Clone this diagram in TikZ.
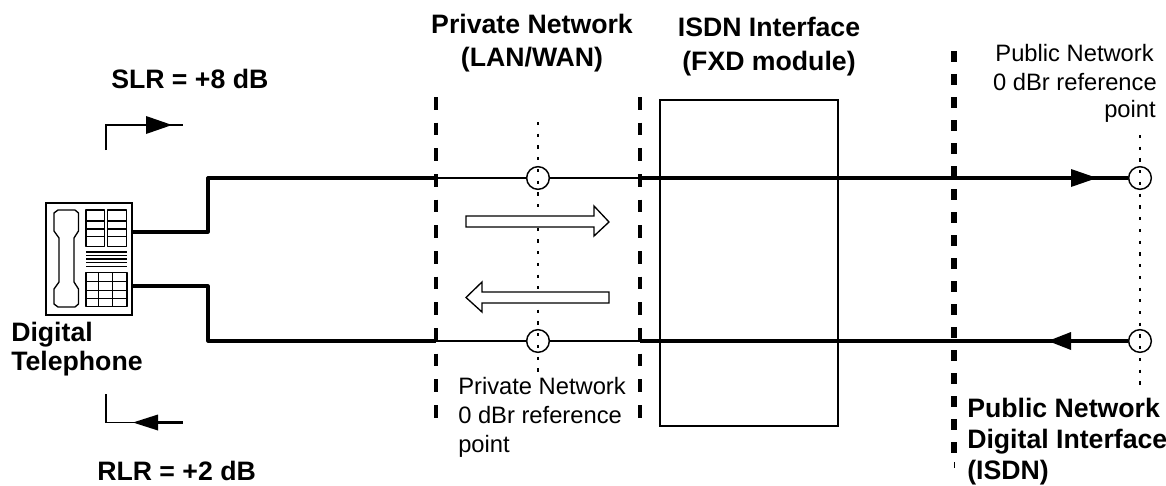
\documentclass[tikz,border=0pt]{standalone}
\usepackage{fontspec}
\setmainfont{Liberation Sans}
\usetikzlibrary{calc}
\tikzset{
 thickw/.style={line width=2.4pt,line join=round},
 thinw/.style={line width=1pt},
 privdash/.style={line width=2.4pt,dash pattern=on 9.5pt off 9.75pt},
 pubdash/.style={line width=4pt,dash pattern=on 8pt off 9.25pt},
 dotw/.style={line width=1.2pt,dash pattern=on 2.4pt off 6.4pt},
 refpt/.style={circle,draw,line width=1.1pt,minimum size=17pt,inner sep=0pt},
 boldlab/.style={font=\fontsize{20}{24}\selectfont\bfseries,inner sep=0pt},
 normlab/.style={font=\fontsize{17.8}{21}\selectfont,inner sep=0pt},
 hollow/.style={draw,fill=white,line width=1pt,miter limit=10},
 solidhead/.style={fill=black},
 phoneline/.style={line width=1pt,line join=round},
 mid/.style={line width=1pt},
}
\begin{document}
\begin{tikzpicture}[x=0.75pt,y=-0.75pt]
\useasboundingbox (0,0) rectangle (1166,485);
% named anchors
\node[draw,line width=1.1pt,minimum width=64.5pt,minimum height=84pt,inner sep=0pt] (phone) at (89,259) {};
\coordinate (ptop) at (132,232);
\coordinate (pbot) at (132,286);
\coordinate (jt) at (208,178);
\coordinate (jb) at (208,341);
\coordinate (lt) at (436,178);
\coordinate (lb) at (436,341);
\coordinate (rt) at (640,178);
\coordinate (rb) at (640,341);
\node[refpt] (c1) at (538,178) {};
\node[refpt] (c2) at (538,341) {};
\node[refpt] (c3) at (1140,178) {};
\node[refpt] (c4) at (1140,341) {};
\node[draw,line width=1.1pt,minimum width=133.5pt,minimum height=244.5pt,inner sep=0pt] (isdn) at (749,263) {};
% dotted
\coordinate (d1a) at (538,122); \coordinate (d1b) at (538,379);
\coordinate (d3a) at (1140,135); \coordinate (d3b) at (1140,389);
\draw[dotw] (d1a) -- (d1b);
\draw[dotw] (d3a) -- (d3b);
% wires
\draw[thickw] (ptop) -| (jt) -- (lt);
\draw[thickw] (pbot) -| (jb) -- (lb);
\draw[thinw] (lt) -- (c1) -- (rt);
\draw[thinw] (lb) -- (c2) -- (rb);
\draw[thickw] (rt) -- (c3);
\draw[thickw] (rb) -- (c4);
% boundaries
\coordinate (b1a) at (436,97); \coordinate (b1b) at (436,418);
\coordinate (b2a) at (640,97); \coordinate (b2b) at (640,418);
\coordinate (b3a) at (954,51); \coordinate (b3b) at (954,454);
\draw[privdash] (b1a) -- (b1b);
\draw[privdash] (b2a) -- (b2b);
\draw[pubdash] (b3a) -- (b3b);
\draw[line width=.5pt] (954,462) -- (954,468);
% solid arrowheads
\fill[solidhead] (1071,169) -- (1097,178) -- (1071,187) -- cycle;
\fill[solidhead] (1071,332) -- (1048,341) -- (1071,350) -- cycle;
% hollow arrows
\draw[hollow] (466,216) -- (594,216) -- (594,206) -- (609,222) -- (594,236) -- (594,227) -- (466,227) -- cycle;
\draw[hollow] (609,292) -- (482,292) -- (482,282) -- (466,297.5) -- (482,312) -- (482,303) -- (609,303) -- cycle;
% SLR/RLR arrows
\coordinate (sa) at (106,150); \coordinate (sb) at (106,125); \coordinate (sc) at (183,125);
\draw[mid] (sa) -- (sb) -- (sc);
\fill[solidhead] (146,116) -- (172,125) -- (146,134) -- cycle;
\coordinate (ra) at (106,394); \coordinate (rb2) at (106,422.5); \coordinate (rc) at (158,422.5); \coordinate (rd) at (183,422.5);
\draw[mid] (ra) -- (rb2) -- (rc);
\draw[line width=1.6pt] (rc) -- (rd);
\fill[solidhead] (158,414.5) -- (133,422.5) -- (158,430.5) -- cycle;
% telephone
\draw[phoneline] (58,210) -- (75,210) -- (78.5,213) -- (78.5,231) -- (74,238) -- (74,282) -- (78.5,289) -- (78.5,304) -- (75,307) -- (58,307) -- (54,304) -- (54,289) -- (59,282) -- (59,238) -- (54,231) -- (54,213) -- cycle;
\draw[phoneline] (86,210) rectangle (104.3,246.7);
\draw[phoneline] (107.7,210) rectangle (126.7,246.7);
\foreach \y in {221,229,236.7} {\draw[phoneline] (86,\y) -- (104.3,\y); \draw[phoneline] (107.7,\y) -- (126.7,\y);}
\foreach \y in {252,255.5,259,262.5,266.5} \draw[phoneline] (86,\y) -- (127,\y);
\draw[phoneline] (86,272.7) rectangle (127,306.7);
\foreach \x in {98.3,112.7} \draw[phoneline] (\x,272.7) -- (\x,306.7);
\foreach \y in {281.7,290.7,298.3} \draw[phoneline] (86,\y) -- (127,\y);
% labels
\node[boldlab,anchor=base] (t1a) at (532,34) {Private Network};
\node[boldlab,anchor=base] (t1b) at (532,67) {(LAN/WAN)};
\node[boldlab,anchor=base] (t2a) at (769,37) {ISDN Interface};
\node[boldlab,anchor=base] (t2b) at (769,70) {(FXD module)};
\node[boldlab,anchor=base west] (t3) at (111,89) {SLR = +8 dB};
\node[boldlab,anchor=base west] (t4) at (97,480) {RLR = +2 dB};
\node[boldlab,anchor=base west] (t5a) at (11,341) {Digital};
\node[boldlab,anchor=base west] (t5b) at (11,370) {Telephone};
\node[boldlab,anchor=base west] (t6a) at (967,417) {Public Network};
\node[boldlab,anchor=base west] (t6b) at (967,448) {Digital Interface};
\node[boldlab,anchor=base west] (t6c) at (967,479) {(ISDN)};
\node[normlab,anchor=base east] (t7a) at (1154,62) {Public Network};
\node[normlab,anchor=base east] (t7b) at (1157,90) {0 dBr reference};
\node[normlab,anchor=base east] (t7c) at (1156,117) {point};
\node[normlab,anchor=base west] (t8a) at (458,394) {Private Network};
\node[normlab,anchor=base west] (t8b) at (458,423) {0 dBr reference};
\node[normlab,anchor=base west] (t8c) at (458,452) {point};
\end{tikzpicture}
\end{document}
